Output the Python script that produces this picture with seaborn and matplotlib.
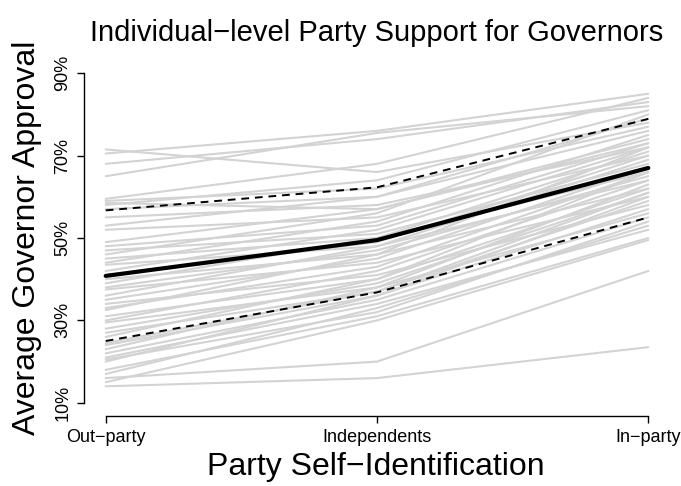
import matplotlib
matplotlib.use("Agg")
import matplotlib.pyplot as plt
import seaborn as sns
import numpy as np
import pandas as pd

sns.set_style("white")
plt.rcParams["font.family"] = ["Liberation Sans", "DejaVu Sans"]
plt.rcParams["text.color"] = "black"
plt.rcParams["axes.labelcolor"] = "black"
plt.rcParams["xtick.color"] = "black"
plt.rcParams["ytick.color"] = "black"

# Party groups on the x axis
categories = ["Out\u2212party", "Independents", "In\u2212party"]

# Per-state approval (%) among out-partisans, independents and in-partisans
out_party = [71.5, 70.5, 68, 65, 59.5, 59, 58.5, 58, 57, 55, 53, 52, 49, 48, 47, 46,
             45, 44, 43.5, 42, 41, 40, 39, 38, 37.5, 36, 35, 34, 33, 32.5, 31, 30,
             29.5, 28, 27, 26, 24, 23, 22, 21, 20, 18, 17, 16, 14, 15, 20.5, 24.5]
independents = [66, 76, 74, 75.5, 68, 62, 57, 64, 60, 58, 60, 55, 57, 53, 51, 56,
                50, 54, 48, 52, 49, 46, 50, 47, 44, 48, 45, 41, 43, 46, 40, 42,
                38, 39, 37, 40, 36, 38, 35, 34, 36, 31, 33, 20, 16, 30, 32, 37]
in_party = [78, 85, 83, 82, 84, 77, 73, 81, 76, 72, 79, 70, 74, 73, 68, 80,
            66, 75, 64, 72, 70, 62, 71, 65, 60, 69, 67, 58, 66, 72, 62, 64,
            56, 61, 59, 66, 57, 63, 55, 52, 60, 50, 53, 42, 23.5, 49.5, 54, 61]

# Average and spread across states
mean_line = [40.8, 49.5, 67.0]
upper_line = [56.7, 62.3, 78.9]
lower_line = [25.0, 36.8, 55.0]

y_ticks = [10, 30, 50, 70, 90]
y_tick_labels = ["10%", "30%", "50%", "70%", "90%"]

rows = []
for s, vals in enumerate(zip(out_party, independents, in_party)):
    for pos, v in enumerate(vals, start=1):
        rows.append({"state": s, "pos": pos, "approval": v})
states = pd.DataFrame(rows)

summary = pd.DataFrame({
    "pos": [1, 2, 3] * 3,
    "approval": mean_line + upper_line + lower_line,
    "stat": ["mean"] * 3 + ["upper"] * 3 + ["lower"] * 3,
})

W, H = 681, 486
fig = plt.figure(figsize=(W / 100, H / 100), dpi=100)
ax_left, ax_bottom, ax_right, ax_top = 84, 416, 670, 60
ax = fig.add_axes([ax_left / W, (H - ax_bottom) / H,
                   (ax_right - ax_left) / W, (ax_bottom - ax_top) / H])

sns.lineplot(data=states, x="pos", y="approval", units="state", estimator=None,
             color="#D3D3D3", lw=1.5, ax=ax, legend=False)
for stat in ["upper", "lower"]:
    d = summary[summary["stat"] == stat]
    sns.lineplot(data=d, x="pos", y="approval", color="black", lw=1.4,
                 ax=ax, legend=False)
    ax.lines[-1].set_dashes((4, 3))
d = summary[summary["stat"] == "mean"]
sns.lineplot(data=d, x="pos", y="approval", color="black", lw=3, ax=ax, legend=False)

ax.set_xlim(0.92, 3.08)
ax.set_ylim(6.8, 93.2)
ax.set_xticks([1, 2, 3])
ax.set_xticklabels(categories, fontsize=13)
ax.set_yticks(y_ticks)
ax.set_yticklabels(y_tick_labels, fontsize=13, rotation=90, va="center")

for side in ["top", "right"]:
    ax.spines[side].set_visible(False)
ax.spines["left"].set_bounds(10, 90)
ax.spines["bottom"].set_bounds(1, 3)
for side in ["left", "bottom"]:
    ax.spines[side].set_linewidth(1.0)
    ax.spines[side].set_color("black")
ax.tick_params(axis="both", direction="out", length=5, width=1.0, color="black",
               left=True, bottom=True, pad=4)

ax_w, ax_h = ax_right - ax_left, ax_bottom - ax_top
ax.set_xlabel("Party Self\u2212Identification", fontsize=23, va="center")
ax.xaxis.set_label_coords(0.5 * (103 + 648) / 1 / ax_w - ax_left / ax_w, (ax_bottom - 467) / ax_h)
ax.set_ylabel("Average Governor Approval", fontsize=23, va="center")
ax.yaxis.set_label_coords((27 - ax_left) / ax_w, (ax_bottom - 238) / ax_h)
ax.set_title("Individual\u2212level Party Support for Governors", fontsize=21, pad=14)

fig.savefig("out.png", dpi=100)
